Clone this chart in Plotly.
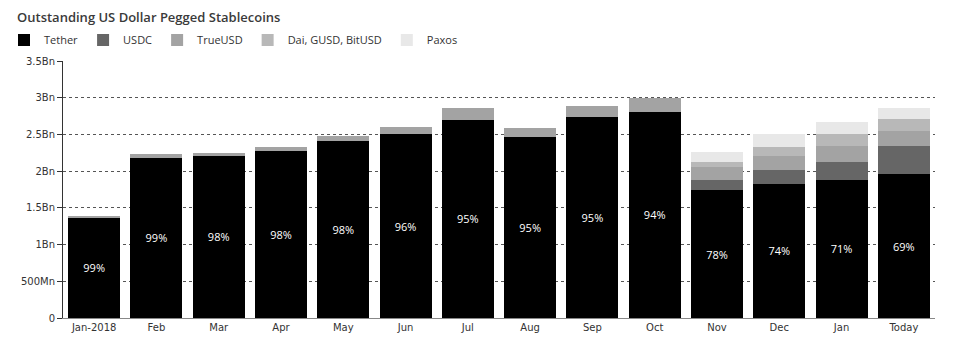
import plotly.graph_objects as go

months = ["Jan-2018", "Feb", "Mar", "Apr", "May", "Jun", "Jul", "Aug", "Sep", "Oct", "Nov", "Dec", "Jan", "Today"]
tether = [1.365, 2.18, 2.21, 2.275, 2.41, 2.50, 2.70, 2.46, 2.74, 2.81, 1.74, 1.83, 1.88, 1.96]
usdc = [0, 0, 0, 0, 0, 0, 0, 0, 0, 0, 0.14, 0.19, 0.25, 0.38]
trueusd = [0.015, 0.05, 0.035, 0.06, 0.07, 0.10, 0.155, 0.13, 0.15, 0.19, 0.17, 0.19, 0.21, 0.20]
dai_gusd_bitusd = [0, 0, 0, 0, 0, 0, 0, 0, 0, 0, 0.08, 0.12, 0.17, 0.17]
paxos = [0, 0, 0, 0, 0, 0, 0, 0, 0, 0, 0.13, 0.18, 0.16, 0.15]
tether_pct = ["99%", "99%", "98%", "98%", "98%", "96%", "95%", "95%", "95%", "94%", "78%", "74%", "71%", "69%"]

y_tickvals = [0, 0.5, 1, 1.5, 2, 2.5, 3, 3.5]
y_ticktext = ["0", "500Mn", "1Bn", "1.5Bn", "2Bn", "2.5Bn", "3Bn", "3.5Bn"]

x = list(range(len(months)))

# page body has an 8px margin; compensate so the chart lands where the reference has it
OFF = 8
L, T, R, B = 63 - OFF, 61 - OFF, 960 + OFF - 935, 355 + OFF - 318
PW, PH = 960 - L - R, 355 - T - B

fig = go.Figure()
series = [
    ("Tether", tether, "#000000"),
    ("USDC", usdc, "#666666"),
    ("TrueUSD", trueusd, "#a3a3a3"),
    ("Dai, GUSD, BitUSD", dai_gusd_bitusd, "#b8b8b8"),
    ("Paxos", paxos, "#e8e8e8"),
]
for name, vals, color in series:
    kw = {}
    if name == "Tether":
        kw = dict(text=tether_pct, textposition="inside", insidetextanchor="middle",
                  textangle=0, constraintext="none",
                  textfont=dict(color="white", size=11, family="Open Sans"))
    fig.add_trace(go.Bar(x=x, y=vals, name=name, marker=dict(color=color, line=dict(width=0)), **kw))

fig.update_layout(
    width=960, height=355,
    barmode="stack", bargap=0.165,
    plot_bgcolor="white", paper_bgcolor="white",
    margin=dict(l=L, r=R, t=T, b=B, autoexpand=False),
    font=dict(family="DejaVu Sans", size=10, color="#333333"),
    title=dict(text="Outstanding US Dollar Pegged Stablecoins", xref="container", yref="container",
               x=(17 - OFF) / 960, xanchor="left", y=1 - (17 - OFF) / 355, yanchor="middle",
               font=dict(family="Open Sans", size=13, color="#3a3a3a", weight=600)),
    legend=dict(orientation="h", x=-(L + 4) / PW, xanchor="left",
                y=(318 - 40) / PH, yanchor="middle",
                font=dict(family="Open Sans", size=11, color="#333333"), traceorder="normal",
                itemwidth=30, tracegroupgap=0),
    showlegend=True,
)
fig.update_xaxes(tickmode="array", tickvals=x, ticktext=months, range=[-0.5, len(months) - 0.5],
                 showline=True, linecolor="#888888", linewidth=1, ticks="", showgrid=False,
                 tickfont=dict(family="DejaVu Sans", size=10, color="#333333"))
fig.update_yaxes(range=[0, 3.5], tickmode="array", tickvals=y_tickvals, ticktext=y_ticktext,
                 showline=True, linecolor="#333333", linewidth=1, ticks="outside", ticklen=5,
                 tickcolor="#333333", showgrid=True, gridcolor="#555555", griddash="dot", gridwidth=1,
                 zeroline=False, tickfont=dict(family="DejaVu Sans", size=10, color="#333333"))

fig.write_html("out.html")
